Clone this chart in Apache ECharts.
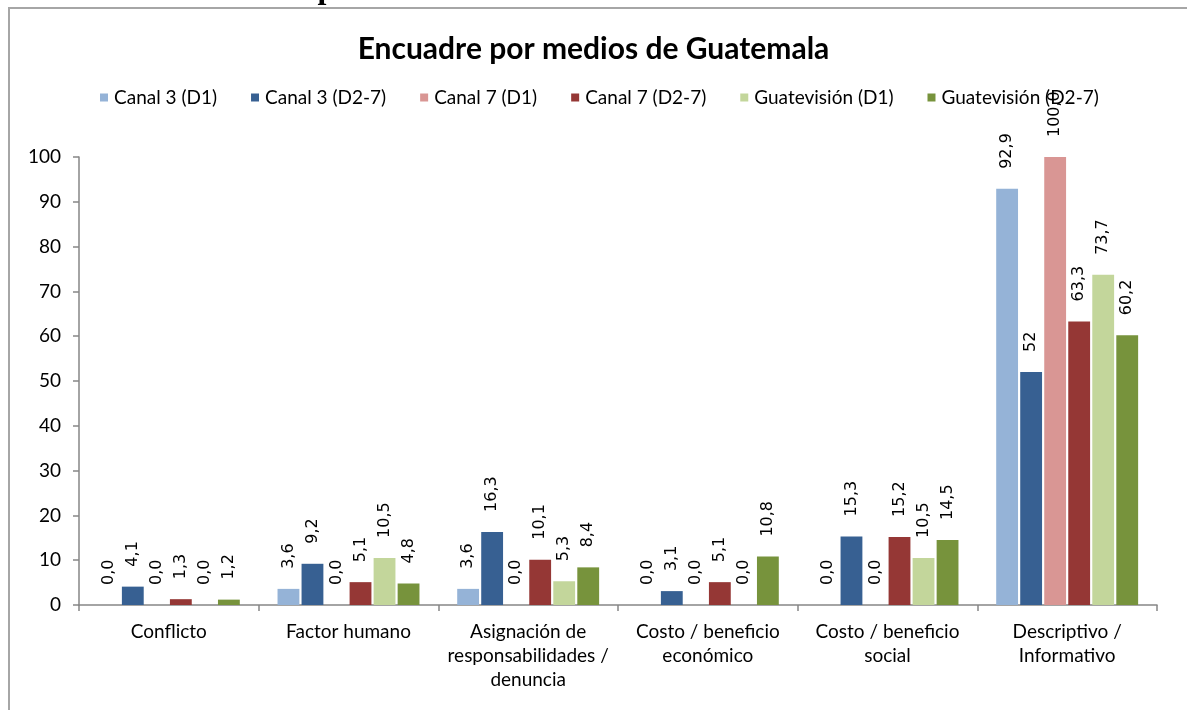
<!DOCTYPE html>
<html>
<head>
<meta charset="utf-8">
<script src="https://cdn.jsdelivr.net/npm/echarts@6/dist/echarts.min.js"></script>
<style>
  html, body, #main { margin: 0; padding: 0; width: 100%; height: 100%; overflow: hidden; background: #fff; }
</style>
</head>
<body>
<div id="main"></div>
<script>
// categorías del eje X
const categories = [
  "Conflicto",
  "Factor humano",
  "Asignación de\nresponsabilidades /\ndenuncia",
  "Costo / beneficio\neconómico",
  "Costo / beneficio\nsocial",
  "Descriptivo /\nInformativo"
];

// valores por serie (%)
const canal3D1 = [0.0, 3.6, 3.6, 0.0, 0.0, 92.9];
const canal3D27 = [4.1, 9.2, 16.3, 3.1, 15.3, 52];
const canal7D1 = [0.0, 0.0, 0.0, 0.0, 0.0, 100.0];
const canal7D27 = [1.3, 5.1, 10.1, 5.1, 15.2, 63.3];
const guateD1 = [0.0, 10.5, 5.3, 0.0, 10.5, 73.7];
const guateD27 = [1.2, 4.8, 8.4, 10.8, 14.5, 60.2];

// etiquetas que en el original salen sin decimal
const plainLabels = { "Canal 3 (D2-7)": [5] };

const seriesDefs = [
  { name: "Canal 3 (D1)", data: canal3D1, color: "#95B3D7" },
  { name: "Canal 3 (D2-7)", data: canal3D27, color: "#376092" },
  { name: "Canal 7 (D1)", data: canal7D1, color: "#D99694" },
  { name: "Canal 7 (D2-7)", data: canal7D27, color: "#953735" },
  { name: "Guatevisión (D1)", data: guateD1, color: "#C3D69B" },
  { name: "Guatevisión (D2-7)", data: guateD27, color: "#77933C" }
];

const font = "Lato, 'Noto Sans', sans-serif";
const labelFont = "'DejaVu Sans', sans-serif";

function fmt(v) {
  return v.toFixed(1).replace(".", ",");
}

let myChart = echarts.init(document.getElementById("main"));

myChart.setOption({
  animation: false,
  textStyle: { fontFamily: font },
  graphic: [
    {
      // marco del gráfico
      type: "rect",
      shape: { x: 9, y: 8, width: 1400, height: 900 },
      style: { fill: "none", stroke: "#A6A6A6", lineWidth: 2 },
      silent: true
    },
    {
      // título del documento, cortado arriba
      type: "text",
      left: 15,
      top: -26,
      style: {
        text: "Gráfico 11: Encuadre por medios de Guatemala",
        font: "bold 32px 'Liberation Serif', serif",
        fill: "#000"
      },
      silent: true
    }
  ],
  title: {
    text: "Encuadre por medios de Guatemala",
    left: "center",
    top: 29,
    textStyle: { fontFamily: font, fontSize: 30, fontWeight: "bold", color: "#000" }
  },
  legend: {
    left: 95,
    top: 83,
    z: 3,
    itemWidth: 8,
    itemHeight: 8,
    itemGap: 34,
    icon: "rect",
    textStyle: { fontFamily: font, fontSize: 19, color: "#000", padding: [0, 0, 0, 1] },
    data: seriesDefs.map((s) => s.name)
  },
  grid: {
    left: 79,
    right: 30,
    top: 157,
    bottom: 105
  },
  xAxis: {
    type: "category",
    data: categories,
    axisLine: { lineStyle: { color: "#868686", width: 1.5 } },
    axisTick: { show: true, length: 6, interval: 0, lineStyle: { color: "#868686", width: 1.5 } },
    axisLabel: {
      interval: 0,
      margin: 15,
      fontFamily: font,
      fontSize: 19,
      lineHeight: 24,
      color: "#000"
    }
  },
  yAxis: {
    type: "value",
    min: 0,
    max: 100,
    interval: 10,
    splitLine: { show: false },
    axisLine: { show: true, lineStyle: { color: "#868686", width: 1.5 } },
    axisTick: { show: true, length: 6, lineStyle: { color: "#868686", width: 1.5 } },
    axisLabel: { margin: 18, fontFamily: font, fontSize: 19, color: "#000" }
  },
  series: seriesDefs.map((s) => ({
    name: s.name,
    type: "bar",
    z: 10,
    barGap: "10%",
    barCategoryGap: "21%",
    itemStyle: { color: s.color },
    labelLayout: { hideOverlap: false },
    label: {
      show: true,
      position: "top",
      rotate: 90,
      align: "left",
      verticalAlign: "middle",
      distance: 20,
      fontFamily: labelFont,
      fontSize: 16,
      color: "#000",
      formatter: (p) =>
        (plainLabels[s.name] || []).includes(p.dataIndex) ? String(p.value) : fmt(p.value)
    },
    data: s.data
  }))
});

window.onresize = myChart.resize;
</script>
</body>
</html>
